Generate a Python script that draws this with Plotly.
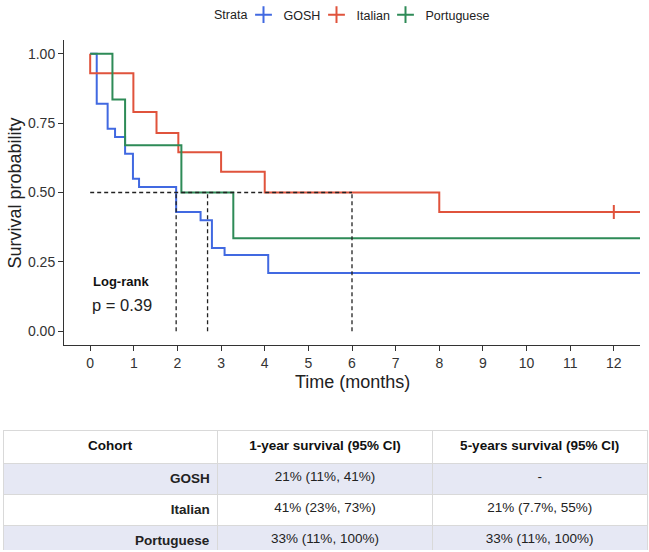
import plotly.graph_objects as go

W, H = 649, 552

# ---- data ----
groups = ["GOSH", "Italian", "Portuguese"]
colors = ["#4169E1", "#E0533C", "#2E8B57"]

gosh_t = [0, 0.15, 0.40, 0.57, 0.80, 0.98, 1.12, 1.97, 2.53, 2.79, 3.08, 4.08, 12.6]
gosh_s = [1.0, 0.82, 0.73, 0.70, 0.64, 0.55, 0.52, 0.43, 0.40, 0.30, 0.275, 0.21, 0.21]

italian_t = [0, 0, 0.99, 1.52, 2.02, 3.00, 4.00, 8.00, 12.6]
italian_s = [1.0, 0.93, 0.79, 0.715, 0.645, 0.575, 0.50, 0.43, 0.43]

portuguese_t = [0, 0.51, 0.80, 2.09, 3.28, 12.6]
portuguese_s = [1.0, 0.835, 0.67, 0.50, 0.335, 0.335]

censor_t = [12.0]          # Italian censor mark
censor_s = [0.43]

median_times = [1.97, 2.69, 6.0]
median_level = 0.5

y_ticks = [0.0, 0.25, 0.5, 0.75, 1.0]
x_ticks = list(range(0, 13))

table_header = ["Cohort", "1-year survival (95% CI)", "5-years survival (95% CI)"]
table_cohort = ["GOSH", "Italian", "Portuguese"]
table_1yr = ["21% (11%, 41%)", "41% (23%, 73%)", "33% (11%, 100%)"]
table_5yr = ["-", "21% (7.7%, 55%)", "33% (11%, 100%)"]

# ---- layout geometry (pixels) ----
PX_L, PX_R, PX_T, PX_B = 64, 640, 40, 345
FONT = "Liberation Sans, Arial, sans-serif"
legend_left_px = [243.5, 316.5, 385.5]
legend_ids = ["legend", "legend2", "legend3"]

fig = go.Figure()

series = [(gosh_t, gosh_s), (italian_t, italian_s), (portuguese_t, portuguese_s)]
for name, col, (t, s) in zip(groups, colors, series):
    fig.add_trace(go.Scatter(x=t, y=s, mode="lines", line=dict(color=col, width=2, shape="hv"),
                             name=name, showlegend=False, hoverinfo="skip"))

fig.add_trace(go.Scatter(x=censor_t, y=censor_s, mode="markers",
                         marker=dict(symbol="cross-thin", size=10, line=dict(color=colors[1], width=2)),
                         showlegend=False, hoverinfo="skip"))

# median lines (dashed), drawn on top
dash_style = dict(color="#222222", width=1.3, dash="4px,3px")
fig.add_trace(go.Scatter(x=[0, max(median_times)], y=[median_level, median_level], mode="lines",
                         line=dash_style, showlegend=False, hoverinfo="skip"))
for mt in median_times:
    fig.add_trace(go.Scatter(x=[mt, mt], y=[0, median_level], mode="lines",
                             line=dash_style, showlegend=False, hoverinfo="skip"))

# legend entries (one legend per entry for tight ggplot-like spacing)
for name, col, lid in zip(groups, colors, legend_ids):
    fig.add_trace(go.Scatter(x=[None], y=[None], mode="markers", name=name, legend=lid,
                             marker=dict(symbol="cross-thin", size=13, line=dict(color=col, width=2))))

# table
row_fill = ["#E6E8F4", "#FFFFFF", "#E6E8F4"]
fig.add_trace(go.Table(
    domain=dict(x=[3 / W, 647 / W], y=[1 - 551 / H, 1 - 430 / H]),
    columnwidth=[1, 1, 1],
    header=dict(values=["<b>%s</b>" % h for h in table_header],
                fill_color="#FFFFFF", line=dict(color="#D9D9D9", width=1),
                align="center", height=33,
                font=dict(family=FONT, size=13.5, color="#111111")),
    cells=dict(values=[["<b>%s</b>" % c for c in table_cohort], table_1yr, table_5yr],
               fill_color=[row_fill, row_fill, row_fill],
               line=dict(color="#D9D9D9", width=1),
               align=["right", "center", "center"], height=29,
               font=dict(family=FONT, size=13.5, color="#222222")),
))

legend_common = dict(orientation="h", xanchor="left", y=1.0, yanchor="top",
                     font=dict(size=12.5, color="#222222"), bgcolor="rgba(0,0,0,0)",
                     itemsizing="constant", itemwidth=30)
legends = {lid: dict(x=px / W, **legend_common) for lid, px in zip(legend_ids, legend_left_px)}

fig.update_layout(
    width=W, height=H, margin=dict(l=0, r=0, t=0, b=0),
    paper_bgcolor="white", plot_bgcolor="white",
    font=dict(family=FONT, color="#222222"),
    showlegend=True,
    xaxis=dict(domain=[PX_L / W, PX_R / W], range=[-0.6, 12.6], tickvals=x_ticks,
               showgrid=False, zeroline=False, showline=True, linecolor="#333333", linewidth=1,
               ticks="outside", ticklen=5, tickcolor="#333333",
               tickfont=dict(size=14, color="#333333"), anchor="y"),
    yaxis=dict(domain=[1 - PX_B / H, 1 - PX_T / H], range=[-0.05, 1.05], tickvals=y_ticks,
               tickformat=".2f", showgrid=False, zeroline=False, showline=True,
               linecolor="#333333", linewidth=1, ticks="outside", ticklen=5, tickcolor="#333333",
               tickfont=dict(size=14, color="#333333"), anchor="x"),
    annotations=[
        dict(text="Strata", x=230 / W, y=1 - 15 / H, xref="paper", yref="paper",
             showarrow=False, xanchor="center", yanchor="middle",
             font=dict(size=12.5, color="#222222")),
        dict(text="Survival probability", x=14 / W, y=1 - 193.5 / H, xref="paper", yref="paper",
             textangle=-90, showarrow=False, xanchor="center", yanchor="middle",
             font=dict(size=18, color="#222222")),
        dict(text="Time (months)", x=352 / W, y=1 - 382 / H, xref="paper", yref="paper",
             showarrow=False, xanchor="center", yanchor="middle",
             font=dict(size=18, color="#222222")),
        dict(text="<b>Log-rank</b>", x=0.02, y=0.18, xref="x", yref="y", showarrow=False,
             xanchor="left", yanchor="middle", font=dict(size=13, color="#111111")),
        dict(text="p = 0.39", x=0.0, y=0.094, xref="x", yref="y", showarrow=False,
             xanchor="left", yanchor="middle", font=dict(size=16.5, color="#222222")),
    ],
    **legends,
)

fig.write_html("out.html")
